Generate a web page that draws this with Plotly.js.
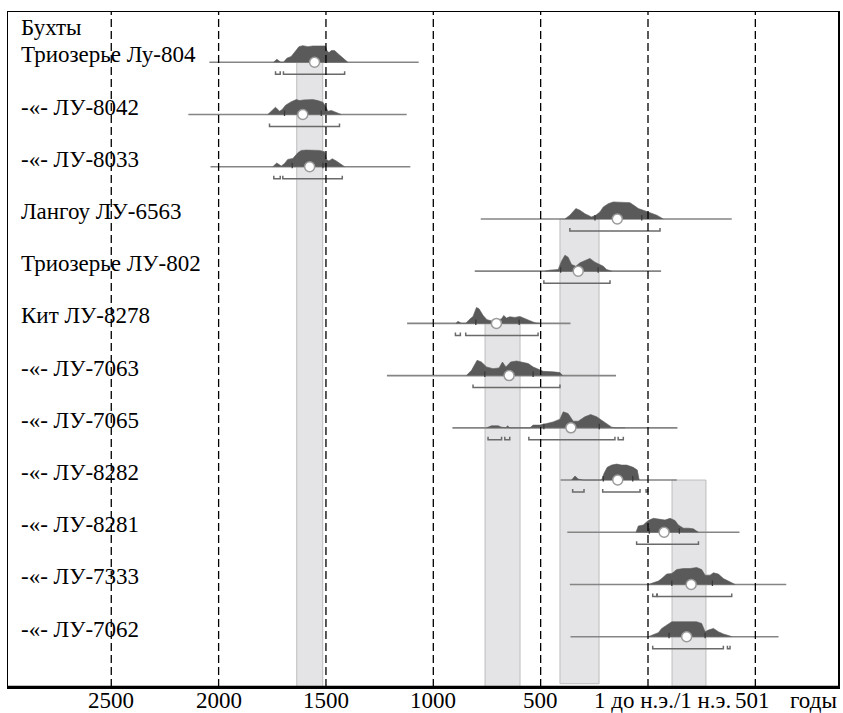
<!DOCTYPE html>
<html><head><meta charset="utf-8">
<script src="https://cdn.plot.ly/plotly-3.0.1.min.js"></script>
<style>html,body{margin:0;padding:0;background:#fff}#chart{width:843px;height:713px}</style>
</head><body><div id="chart"></div><script>
// ---- data ----
const rowLabels = ["Триозерье Лу-804","-«- ЛУ-8042","-«- ЛУ-8033","Лангоу ЛУ-6563","Триозерье ЛУ-802","Кит ЛУ-8278","-«- ЛУ-7063","-«- ЛУ-7065","-«- ЛУ-8282","-«- ЛУ-8281","-«- ЛУ-7333","-«- ЛУ-7062"];
const headerLabel = "Бухты";
const lineFrom = [-2043,-2141,-2038,-779,-807,-1122,-1216,-911,-407,-376,-364,-361];
const lineTo   = [-1068,-1124,-1107,390,61,-361,-149,137,134,426,644,608];
const medianYear = [-1553,-1608,-1576,-143,-325,-706,-647,-359,-141,75,201,180];
const sigma1Low  = [null,-1693,-1657,-247,-407,-802,-760,-485,-208,6,111,98];
const sigma1High = [null,-1522,-1514,-29,-232,-600,-535,-227,-71,146,300,266];
const sigma2Ranges = [
  [[-1735,-1713],[-1698,-1413]],
  [[-1763,-1437]],
  [[-1743,-1713],[-1701,-1424]],
  [[-364,56]],
  [[-485,-177]],
  [[-897,-874],[-849,-512]],
  [[-815,-410]],
  [[-745,-682],[-667,-644],[-555,-154],[-139,-115]],
  [[-351,-298],[-211,-37],[-9,-1]],
  [[-53,235]],
  [[22,41],[43,390]],
  [[22,351],[370,382]]
];
const yr804 = [-1744,-1729,-1710,-1698,-1682,-1662,-1638,-1626,-1608,-1584,-1561,-1538,-1514,-1502,-1496,-1486,-1475,-1460,-1437,-1413,-1398];
const p804  = [0,.18,0,0,.24,.34,.72,.92,.98,.92,.96,.96,1,.96,.69,.57,.69,.69,.43,.18,0];
const yr8042 = [-1771,-1755,-1735,-1716,-1704,-1688,-1662,-1638,-1623,-1604,-1584,-1561,-1538,-1514,-1502,-1491,-1475,-1452,-1429];
const p8042  = [0,.19,.43,.19,.29,.55,.75,.88,.82,.86,.88,.88,.82,.72,.49,.19,.24,.14,0];
const yr8033 = [-1748,-1729,-1708,-1693,-1678,-1654,-1631,-1615,-1592,-1561,-1530,-1506,-1498,-1486,-1471,-1452,-1429,-1413];
const p8033  = [0,.22,.04,.19,.43,.49,.82,.96,.98,.96,.96,.88,.43,.34,.47,.34,.14,0];
const yr6563 = [-387,-364,-336,-317,-294,-263,-243,-224,-208,-185,-162,-115,-84,-61,-45,-22,9,41,71];
const p6563  = [0,.22,.61,.51,.31,.12,.22,.41,.71,.9,1,1,.96,.76,.61,.51,.37,.22,0];
const yr802 = [-480,-457,-418,-403,-387,-372,-356,-336,-317,-294,-271,-247,-224,-208,-193,-169];
const p802  = [0,.06,.1,.59,.94,.82,.39,.29,.49,.63,.75,.53,.39,.29,.1,0];
const yr8278 = [-895,-885,-869,-849,-833,-815,-799,-787,-768,-750,-721,-698,-682,-672,-659,-644,-620,-597,-574,-550,-527,-504];
const p8278  = [0,.12,0,0,.22,.41,.94,.86,.47,.22,.12,.2,.27,.47,.31,.39,.35,.41,.27,.16,.04,0];
const yr7063 = [-846,-822,-796,-776,-752,-722,-694,-678,-662,-640,-612,-582,-558,-535,-512,-488,-442,-410,-398];
const p7063  = [0,.31,.9,.8,.51,.41,.45,.8,.51,.8,.86,.8,.71,.51,.37,.25,.22,.18,0];
const yr7065 = [-752,-729,-698,-682,-662,-654,-644,-550,-535,-504,-472,-442,-410,-395,-372,-348,-325,-294,-267,-239,-216,-193,-169,-154,-131,-107];
const p7065  = [0,.12,.12,.04,0,.12,0,0,.16,.16,.25,.35,.51,.94,.84,.39,.39,.65,.78,.65,.45,.25,.04,0,.02,0];
const yr8282 = [-356,-340,-325,-302,-216,-205,-190,-169,-146,-123,-99,-69,-50,-41];
const p8282  = [0,.24,.06,0,0,.39,.75,.88,.94,.88,.88,.75,.59,0];
const yr8281 = [-56,-45,-22,1,25,56,79,103,126,141,165,188,211,235];
const p8281  = [0,.37,.43,.69,.82,.78,.72,.82,.69,.43,.24,.24,.2,0];
const yr7333 = [1,25,48,64,87,111,134,165,196,227,250,266,289,305,328,351,382,406];
const p7333  = [0,.1,.2,.35,.61,.65,.88,.94,.94,1,.88,.55,.55,.69,.61,.35,.16,0];
const yr7062 = [1,25,48,64,87,111,134,157,180,204,227,250,266,281,305,328,351,382,390];
const p7062  = [0,.1,.24,.49,.69,.88,.88,.88,.88,.88,.88,.78,.29,.39,.49,.29,.16,.04,0];
const bandFrom = [-1636,-759,-410,112];
const bandTo   = [-1515,-596,-228,270];
const bandTopRow = [0,5,3,8];
const gridYears = [-2500,-2000,-1500,-1000,-500,0,500];
const tickText = ["2500","2000","1500","1000","500","1 до н.э./1 н.э.","501"];
const unitLabel = "годы";

// ---- drawing ----
const distYears = [yr804,yr8042,yr8033,yr6563,yr802,yr8278,yr7063,yr7065,yr8282,yr8281,yr7333,yr7062];
const distProb  = [p804,p8042,p8033,p6563,p802,p8278,p7063,p7065,p8282,p8281,p7333,p7062];
const PX_ROW = 52.22;
const H = 17/PX_ROW;
const yTop = -0.963, yBot = 11.963;
const traces = [];
const bx=[], by=[];
rowLabels.forEach((_,i)=>{ bx.push(lineFrom[i],lineTo[i],null); by.push(i,i,null); });
traces.push({type:'scatter',mode:'lines',x:bx,y:by,line:{color:'#858585',width:1.6},hoverinfo:'skip'});
distYears.forEach((yr,i)=>{
  traces.push({type:'scatter',mode:'lines',x:yr,y:distProb[i].map(v=>i-v*H),fill:'toself',
    fillcolor:'#5a5a5a',line:{color:'#5a5a5a',width:0.6},hoverinfo:'skip'});
});
const tx=[], ty=[];
rowLabels.forEach((_,i)=>{
  [sigma1Low[i],sigma1High[i]].forEach(v=>{ if(v!==null){ tx.push(v,v,null); ty.push(i+1.5/PX_ROW,i-4/PX_ROW,null);} });
});
traces.push({type:'scatter',mode:'lines',x:tx,y:ty,line:{color:'#3a3a3a',width:1.3},hoverinfo:'skip'});
const kx=[], ky=[];
const off = 12/PX_ROW, tk = 3/PX_ROW;
sigma2Ranges.forEach((rs,i)=>{
  rs.forEach(r=>{ kx.push(r[0],r[0],r[1],r[1],null); ky.push(i+off-tk,i+off,i+off,i+off-tk,null); });
});
traces.push({type:'scatter',mode:'lines',x:kx,y:ky,line:{color:'#6a6a6a',width:1.5},hoverinfo:'skip'});
traces.push({type:'scatter',mode:'markers',x:medianYear,y:rowLabels.map((_,i)=>i),
  marker:{size:10,color:'#ffffff',line:{color:'#9a9a9a',width:1.5}},hoverinfo:'skip'});

const shapes = [];
bandFrom.forEach((b,k)=>{
  shapes.push({type:'rect',xref:'x',yref:'y',x0:b,x1:bandTo[k],y0:bandTopRow[k],y1:(k===2?11.9:yBot),
    fillcolor:'#e4e4e6',line:{color:'#bdbdbd',width:1},layer:'below'});
});
gridYears.forEach(g=>{
  shapes.push({type:'line',xref:'x',yref:'paper',x0:g,x1:g,y0:0,y1:1,line:{color:'#000',width:1.3,dash:'8px,4px'},layer:'above'});
});
shapes.push({type:'line',xref:'paper',yref:'paper',x0:0,x1:1,y0:0,y1:0,line:{color:'#000',width:2.5},layer:'above'});

const FONT = 'Liberation Serif';
const txtFont = {family:FONT,size:23,color:'#000'};
const annotations = rowLabels.map((t,i)=>({text:t,xref:'paper',yref:'y',x:0.0133,y:i-7.5/PX_ROW,
  xanchor:'left',yanchor:'middle',showarrow:false,font:txtFont}));
annotations.push({text:headerLabel,xref:'paper',yref:'y',x:0.0133,y:-0.52-7.5/PX_ROW,xanchor:'left',yanchor:'middle',
  showarrow:false,font:txtFont});
const tickShift = [0,0,0,0,0,14,-3];
gridYears.forEach((g,k)=>{
  annotations.push({text:tickText[k],xref:'x',yref:'paper',x:g,y:0,yshift:-13,xshift:tickShift[k],
    xanchor:'center',yanchor:'middle',showarrow:false,font:txtFont});
});
annotations.push({text:unitLabel,xref:'paper',yref:'paper',x:0.97,y:0,yshift:-13,xanchor:'center',yanchor:'middle',
  showarrow:false,font:txtFont});

const layout = {
  width:843,height:713,margin:{l:8,r:5,t:12,b:26},
  paper_bgcolor:'#fff',plot_bgcolor:'#fff',showlegend:false,
  font:{family:FONT},
  xaxis:{range:[-2981,885],tickvals:gridYears,showticklabels:false,showgrid:false,zeroline:false,
    showline:true,mirror:true,linecolor:'#000',linewidth:1.5,ticks:''},
  yaxis:{range:[yBot,yTop],showgrid:false,zeroline:false,showticklabels:false,
    showline:true,mirror:true,linecolor:'#000',linewidth:1.5,ticks:''},
  shapes:shapes,annotations:annotations
};
Plotly.newPlot('chart',traces,layout,{staticPlot:true,displayModeBar:false});
</script></body></html>
